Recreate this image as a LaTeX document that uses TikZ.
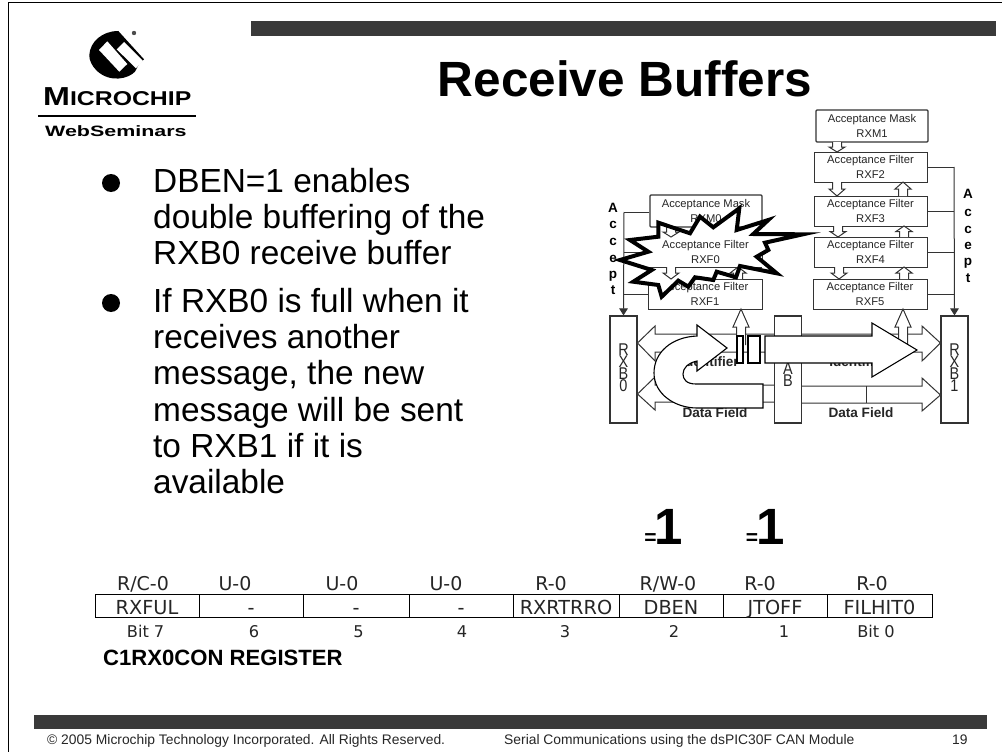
\documentclass[tikz,border=0pt]{standalone}
\usepackage{fontspec}
\setmainfont{Liberation Sans}
\newfontfamily\regfont{DejaVu Sans}
\usetikzlibrary{arrows.meta}
\newcommand{\fs}[1]{\fontsize{#1}{#1}\selectfont}
\newcommand{\stackletters}[1]{\scalebox{0.85}[1]{\parbox{20pt}{\centering\lineskiplimit=-20pt\fontsize{17}{12}\selectfont #1\par}}}
\definecolor{barc}{HTML}{3A3A3A}
\definecolor{linec}{HTML}{333333}
\newcommand{\hollowV}[3]{% x, base y, tip y
  \draw[hollow] ({#1-4.5},#2) -- ({#1-4.5},{#2+(#3-#2)*0.5}) -- ({#1-8},{#2+(#3-#2)*0.5}) -- (#1,#3) -- ({#1+8},{#2+(#3-#2)*0.5}) -- ({#1+4.5},{#2+(#3-#2)*0.5}) -- ({#1+4.5},#2);}
\newcommand{\starpath}{(658.3,222.7) -- (690,233.3) -- (700,216.7) -- (713.3,227.3) -- (739.3,208.3) -- (736.7,230) -- (768.3,220) -- (753.3,234) -- (803,234.3) -- (765,242.7) -- (768.3,250) -- (756.7,256.7) -- (776.7,273.3) -- (740,266) -- (736,277.3) -- (716.7,271.7) -- (713.3,280) -- (695,277.3) -- (688.3,286.7) -- (678.3,280.7) -- (661.7,296.7) -- (658.3,285) -- (633.3,281.7) -- (651.7,270) -- (620,260) -- (648.3,251.7) -- (630,240) -- (658.3,236.7) -- cycle}
\tikzset{
  x=1pt,y=-1pt,
  bar/.style={fill=barc,draw=none},
  filterbox/.style={draw=linec,line width=1pt,fill=white,inner sep=0pt,align=center,text=black!85,font=\fs{11.2},minimum height=30pt},
  maskbox/.style={filterbox,rounded corners=1pt,minimum height=32pt,line width=1.2pt},
  bufbox/.style={draw=linec,line width=1.1pt,fill=white,inner sep=0pt,minimum width=27pt,minimum height=107pt},
  hollow/.style={draw=linec,line width=1pt,fill=white},
  accline/.style={draw=linec,line width=1pt},
  bigarrow/.style={draw=black,line width=1.1pt,fill=white,line join=miter},
  buftext/.style={inner sep=0pt,text=black!85,anchor=center},
  acc/.style={inner sep=0pt,font=\fs{13.5}\bfseries,anchor=base},
  lab/.style={inner sep=0pt,font=\fs{13.6}\bfseries,text=black!85,anchor=base},
  bullet/.style={inner sep=0pt,font=\fs{33.4},anchor=base west},
  regtop/.style={inner sep=0pt,font=\regfont\fs{19},anchor=base,text=black!85},
  regcell/.style={draw=black,line width=1pt,inner sep=0pt,minimum height=23pt,text height=17pt,text depth=0pt,font=\regfont\fs{19.3},text=black!85},
  regbot/.style={inner sep=0pt,font=\regfont\fs{16.2},anchor=base,text=black!85},
  foot/.style={inner sep=0pt,font=\fs{13.85},anchor=base west,text=black!85},
}
\begin{document}
\begin{tikzpicture}
\useasboundingbox (0,0) rectangle (1002,752);
\fill[white] (0,0) rectangle (1002,752);
% frame and bars
\draw[black,line width=1pt] (8,752) -- (8,3) -- (1002,3);
\fill[bar] (251,21) rectangle (996,36.5);
\fill[bar] (34,715) rectangle (987,729);
% logo
\fill[black] (89.3,55) .. controls (90,42) and (102,31) .. (118.3,31) -- (144,59.3) -- (139,64) -- (135,71.7) .. controls (128,79) and (110,83) .. (96.7,70.7) .. controls (92,66) and (89,60) .. (89.3,55) -- cycle;
\fill[white] (99,50) -- (107.3,41.3) -- (127.3,64) -- (119.3,71.7) -- cycle;
\fill[white] (116.7,49.3) -- (124,42) -- (142.7,60.7) -- (136,68.3) -- cycle;
\fill[black!70] (134,33) circle (2.2);
\node[inner sep=0pt,anchor=base west] (micro) at (43,106) {\scalebox{1.24}[1]{\bfseries\fs{26}M\fs{20}ICROCHIP}};
\fill[black] (38,114.8) rectangle (196,117);
\node[inner sep=0pt,anchor=base west] (webs) at (45,136) {\scalebox{1.43}[1]{\bfseries\fs{15}WebSeminars}};
% title
\node[inner sep=0pt,anchor=base] (title) at (625,96) {\bfseries\fs{49.5}Receive Buffers};
% bullets
\fill[black] (111,183) circle (9);
\fill[black] (111,303) circle (9);
\node[bullet] (b1a) at (153,192) {DBEN=1 enables};
\node[bullet] (b1b) at (153,228) {double buffering of the};
\node[bullet] (b1c) at (153,264) {RXB0 receive buffer};
\node[bullet] (b2a) at (153,312) {If RXB0 is full when it};
\node[bullet] (b2b) at (153,348) {receives another};
\node[bullet] (b2c) at (153,384) {message, the new};
\node[bullet] (b2d) at (153,421) {message will be sent};
\node[bullet] (b2e) at (153,457.5) {to RXB1 if it is};
\node[bullet] (b2f) at (153,493) {available};
% buffers
\node[bufbox] (rxb0) at (623.5,369.5) {};
\node[bufbox] (ab) at (788,369.5) {};
\node[bufbox] (rxb1) at (954.5,369.5) {};
\node[buftext] (rxb0t) at (623.5,368) {\stackletters{R\\X\\B\\0}};
\node[buftext] (abt) at (788,374.5) {\stackletters{A\\B}};
\node[buftext] (rxb1t) at (954.5,368) {\stackletters{R\\X\\B\\1}};
% buffer arrows
\draw[hollow] (ab.west |- 0,334) -- (655,334) -- (655,326) -- (637.5,343) -- (655,361) -- (655,352) -- (ab.west |- 0,352);
\draw[hollow] (ab.west |- 0,385) -- (655,385) -- (655,377) -- (637.5,394) -- (655,410) -- (655,402) -- (ab.west |- 0,402);
\draw[hollow] (ab.east |- 0,334) -- (922,334) -- (922,326) -- (rxb1.west |- 0,343) -- (922,361) -- (922,352) -- (ab.east |- 0,352);
\draw[hollow] (ab.east |- 0,386) -- (922,386) -- (922,378) -- (rxb1.west |- 0,395) -- (922,411) -- (922,403) -- (ab.east |- 0,403);
\draw[linec,line width=1pt] (866,386) -- (866,403);
\node[lab] (id0) at (710,366) {Identifier};
\node[lab] (id1) at (858,366) {Identifier};
\node[lab] (df0) at (715,417) {Data Field};
\node[lab] (df1) at (861,417) {Data Field};
% filters, left column
\node[maskbox,minimum width=112pt] (rxm0) at (706,211) {Acceptance Mask\\[3pt]RXM0};
\node[filterbox,minimum width=113pt] (rxf0) at (705.5,252) {};
\node[filterbox,minimum width=114pt] (rxf1) at (705,294) {Acceptance Filter\\[3pt]RXF1};
% filters, right column
\node[maskbox,minimum width=112pt] (rxm1) at (872,126) {Acceptance Mask\\[3pt]RXM1};
\node[filterbox,minimum width=113pt] (rxf2) at (870.5,167) {Acceptance Filter\\[3pt]RXF2};
\node[filterbox,minimum width=113pt] (rxf3) at (870.5,211) {Acceptance Filter\\[3pt]RXF3};
\node[filterbox,minimum width=113pt] (rxf4) at (870.5,252) {Acceptance Filter\\[3pt]RXF4};
\node[filterbox,minimum width=114pt] (rxf5) at (870,294) {Acceptance Filter\\[3pt]RXF5};
% accept lines
\coordinate (accLtop) at (624,212);
\coordinate (accRtop) at (954,167);
\draw[accline] (rxm0.west |- accLtop) -- (accLtop);
\draw[accline,-{Triangle[length=7pt,width=8.5pt]}] (accLtop) -- (rxb0.north);
\draw[accline] (rxf0.west) -- (rxf0.west -| accLtop);
\draw[accline] (rxf1.west) -- (rxf1.west -| accLtop);
\draw[accline] (rxf2.east) -- (accRtop);
\draw[accline,-{Triangle[length=7pt,width=8.5pt]}] (accRtop) -- (rxb1.north);
\draw[accline] (rxf3.east) -- (rxf3.east -| accRtop);
\draw[accline] (rxf4.east) -- (rxf4.east -| accRtop);
\draw[accline] (rxf5.east) -- (rxf5.east -| accRtop);
\foreach \l/\yy [count=\i] in {A/212,c/228,c/245,e/262,p/278,t/294}{\node[acc] (accl\i) at (613,\yy) {\l};}
\foreach \l/\yy [count=\i] in {A/198,c/216,c/233,e/249,p/265,t/282}{\node[acc] (accr\i) at (968,\yy) {\l};}
% small block arrows
\hollowV{837}{142}{152}
\hollowV{837}{182}{196}
\hollowV{903}{196}{182}
\hollowV{838}{226}{237}
\hollowV{904}{237}{226}
\hollowV{839}{267}{279}
\hollowV{904}{279}{267}
\hollowV{741}{345}{309}
\hollowV{903}{345}{309}
% star
\fill[white] \starpath;
\draw[linec,line width=1pt] (648,267) -- (762,267);
\hollowV{671}{227}{237}
\hollowV{671}{267}{279}
\hollowV{738}{279}{267}
\draw[draw=black,line width=4pt,miter limit=10,line join=miter] \starpath;
\node[inner sep=0pt,align=center,font=\fs{11.2},text=black!85] (rxf0t) at (705.5,252) {Acceptance Filter\\[3pt]RXF0};
% U-turn arrow
\draw[bigarrow] (763,384) -- (696,384) .. controls (686,384) and (683,379) .. (683,374) .. controls (683,368) and (688,363) .. (697,361)
 -- (697,371) -- (727,348) -- (697,325) -- (697,336) .. controls (672,337) and (654,352) .. (654,373) .. controls (654,394) and (675,408) .. (697,408) -- (763,408) -- cycle;
% striped arrow
\draw[bigarrow] (737,336) rectangle (743,363);
\draw[bigarrow] (748,336) rectangle (760,363);
\draw[bigarrow] (765,336) -- (872,336) -- (872,323) -- (917,350) -- (872,377) -- (872,363) -- (765,363) -- cycle;
% =1 labels
\node[inner sep=0pt,anchor=base] (eqa) at (650.5,544) {\bfseries\fs{21}=};
\node[inner sep=0pt,anchor=base] (onea) at (669,544) {\bfseries\fs{51}1};
\node[inner sep=0pt,anchor=base] (eqb) at (752,544) {\bfseries\fs{21}=};
\node[inner sep=0pt,anchor=base] (oneb) at (771,544) {\bfseries\fs{51}1};
% register
\foreach \tx/\xa/\xb/\n/\tp/\xt/\bt/\xz in {RXFUL/95/199/a/R\slash C-0/143/Bit 7/145.6,-/199/303/b/U-0/235/6/254,-/303/409/c/U-0/342/5/358.5,-/409/513/d/U-0/446/4/462,RXRTRRO/513/619/e/R-0/551/3/565,DBEN/619/723/f/R\slash W-0/668/2/674,JTOFF/723/827/g/R-0/760/1/784,FILHIT0/827/932/h/R-0/872/Bit 0/876}{
  \pgfmathsetmacro{\cw}{\xb-\xa}
  \node[regcell,minimum width=\cw pt] (cell\n) at ({(\xa+\xb)/2},605.5) {\tx};
  \node[regtop] (top\n) at (\xt,590.5) {\tp};
  \node[regbot] (bot\n) at (\xz,637) {\bt};
}
\node[inner sep=0pt,anchor=base west] (regname) at (103,665) {\bfseries\fs{22.1}C1RX0CON REGISTER};
% footer
\node[foot] (f1) at (47,744.5) {© 2005 Microchip Technology Incorporated. All Rights Reserved.};
\node[foot] (f2) at (504,744.5) {Serial Communications using the dsPIC30F CAN Module};
\node[foot] (f3) at (952,744.5) {19};
\end{tikzpicture}
\end{document}
